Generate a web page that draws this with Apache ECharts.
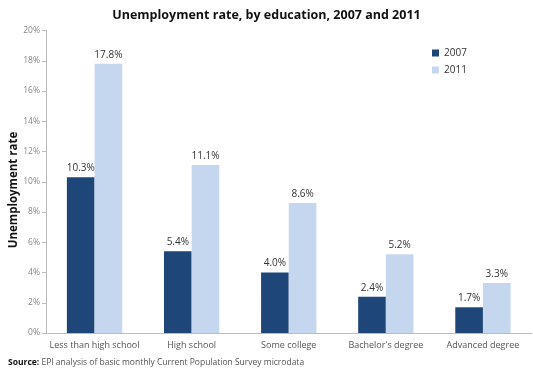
<!DOCTYPE html>
<html><head><meta charset="utf-8">
<script src="https://cdn.jsdelivr.net/npm/echarts@6/dist/echarts.min.js"></script>
<style>html,body{margin:0;padding:0;background:#fff}#c{width:533px;height:375px}</style>
</head><body><div id="c"></div>
<script>
const categories = ["Less than high school", "High school", "Some college", "Bachelor's degree", "Advanced degree"];
const values2007 = [10.3, 5.4, 4.0, 2.4, 1.7];
const values2011 = [17.8, 11.1, 8.6, 5.2, 3.3];
const seriesNames = ["2007", "2011"];
const yTicks = [0, 2, 4, 6, 8, 10, 12, 14, 16, 18, 20];
const yAxisTitle = 'Unemployment rate';

const font = "'Open Sans', 'Noto Sans', sans-serif";
const chart = echarts.init(document.getElementById('c'), null, {renderer: 'canvas'});
const lbl = {show: true, position: 'top', distance: 4, color: '#333', fontSize: 10, fontFamily: font,
  formatter: p => p.value.toFixed(1) + '%'};
chart.setOption({
  animation: false,
  title: {text: 'Unemployment rate, by education, 2007 and 2011', left: 'center', top: 4,
    textStyle: {fontSize: 12.5, fontWeight: 'bold', color: '#111', fontFamily: font}},
  legend: {data: seriesNames, orient: 'vertical', left: 427, top: 43, itemWidth: 7, itemHeight: 7, itemGap: 7,
    icon: 'rect', textStyle: {fontSize: 10, color: '#333', fontFamily: font}},
  grid: {left: 46, right: 1.5, top: 30.5, bottom: 42, containLabel: false, outerBoundsMode: 'none'},
  xAxis: {type: 'category', data: categories,
    axisLine: {lineStyle: {color: '#bbb'}}, axisTick: {show: false},
    axisLabel: {color: '#555', fontSize: 9, fontFamily: font, margin: 8, interval: 0}},
  yAxis: {type: 'value', min: 0, max: 20, interval: 2,
    axisLine: {show: true, lineStyle: {color: '#bbb'}},
    axisTick: {show: true, inside: false, length: 4, lineStyle: {color: '#bbb'}},
    splitLine: {show: false},
    axisLabel: {color: '#888', fontSize: 8.5, fontFamily: font, margin: 6,
      formatter: v => yTicks.includes(v) ? v + '%' : ''}},
  series: [
    {name: seriesNames[0], type: 'bar', data: values2007, barGap: '0%', barCategoryGap: '43%',
      itemStyle: {color: '#1f4678'}, label: lbl},
    {name: seriesNames[1], type: 'bar', data: values2011, barGap: '0%', barCategoryGap: '43%',
      itemStyle: {color: '#c5d7ee'}, label: lbl}
  ],
  graphic: [
    {type: 'text', x: 14, y: 190, rotation: Math.PI / 2, style: {
      text: yAxisTitle, align: 'center', verticalAlign: 'middle',
      fontSize: 11.5, fontWeight: 'bold', fill: '#111', fontFamily: font}},
    {type: 'text', left: 8, top: 358, style: {
    text: '{b|Source:} EPI analysis of basic monthly Current Population Survey microdata',
    rich: {b: {fontWeight: 'bold', fontSize: 8.5, fill: '#111', fontFamily: font}},
    fontSize: 8.5, fill: '#555', fontFamily: font}}]
});
</script></body></html>
